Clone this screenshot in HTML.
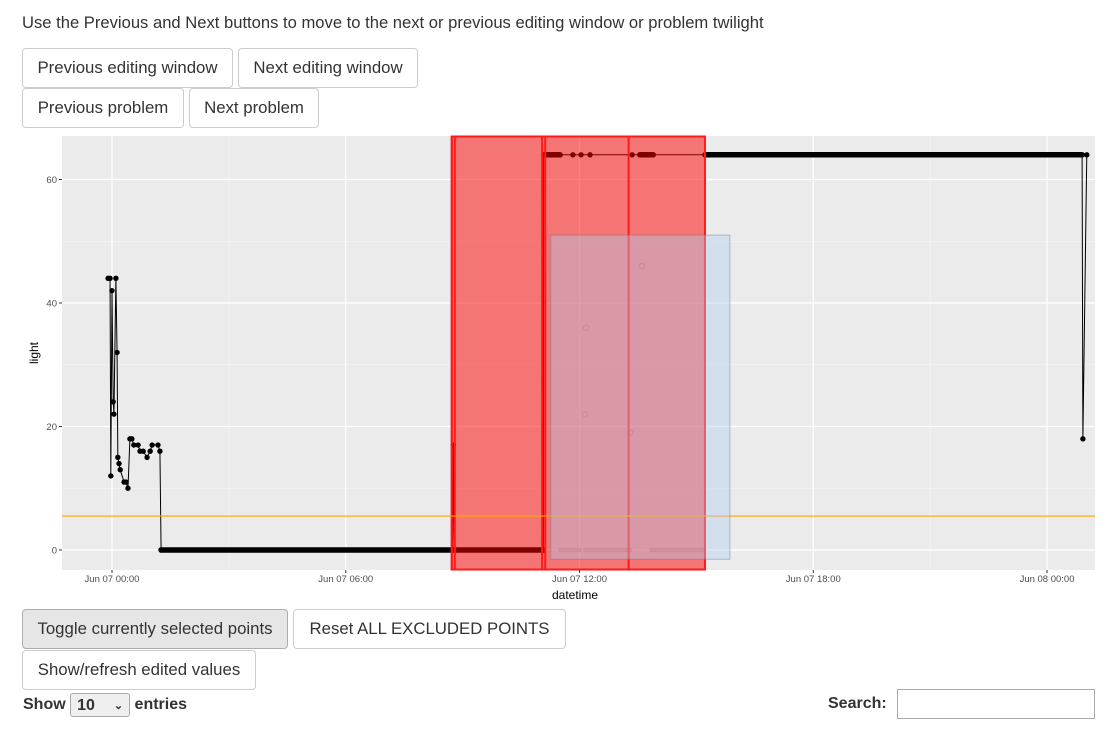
<!DOCTYPE html>
<html><head><meta charset="utf-8">
<style>
body{margin:0;width:1108px;height:733px;background:#fff;font-family:"Liberation Sans",Arial,sans-serif;color:#333;position:relative;overflow:hidden}
.abs{position:absolute}
.btn{position:absolute;box-sizing:border-box;border:1px solid #ccc;border-radius:4px;background:#fff;font-size:16.8px;color:#333;display:flex;align-items:center;justify-content:center;height:40px;white-space:nowrap}
</style></head><body>
<div class="abs" style="left:22px;top:13px;font-size:16.6px;white-space:nowrap">Use the Previous and Next buttons to move to the next or previous editing window or problem twilight</div>
<div class="btn" style="left:22px;top:48px;width:211px">Previous editing window</div>
<div class="btn" style="left:238px;top:48px;width:180px">Next editing window</div>
<div class="btn" style="left:22px;top:88px;width:162px">Previous problem</div>
<div class="btn" style="left:189px;top:88px;width:130px">Next problem</div>

<svg class="abs" style="left:0;top:0" width="1108" height="733" id="chart" font-family="Liberation Sans, Arial, sans-serif"></svg>

<div class="btn" style="left:22px;top:609px;width:266px;background:#e6e6e6;border-color:#adadad">Toggle currently selected points</div>
<div class="btn" style="left:293px;top:609px;width:273px">Reset ALL EXCLUDED POINTS</div>
<div class="btn" style="left:22px;top:650px;width:234px">Show/refresh edited values</div>
<div class="abs" style="left:23px;top:693px;font-size:16px;font-weight:bold;color:#333">Show <span style="display:inline-block;border:1px solid #aaa;border-radius:3px;width:60px;height:24px;line-height:24px;box-sizing:border-box;padding-left:6px;vertical-align:middle;font-weight:bold;background:#efefef">10 <span style="float:right;margin-right:6px;font-size:11px">&#8964;</span></span> entries</div>
<div class="abs" style="left:828px;top:695px;font-size:16px;font-weight:bold">Search:</div>
<div class="abs" style="left:897px;top:689px;width:198px;height:30px;box-sizing:border-box;border:1px solid #aaa"></div>

<script>
const yTicks=[0,20,40,60];
const xTickHours=[0,6,12,18,24];
const xTickLabels=["Jun 07 00:00","Jun 07 06:00","Jun 07 12:00","Jun 07 18:00","Jun 08 00:00"];
const ptHours=[-0.10,-0.05,-0.03,0,0.03,0.05,0.10,0.13,0.15,0.18,0.21,0.31,0.36,0.41,0.46,0.51,0.56,0.67,0.72,0.80,0.90,0.98,1.03,1.18,1.23,1.26,8.74,8.76,8.78,11.07,11.08,11.5,11.83,12.04,12.27,13.35,13.55,13.89,15.22,24.9,24.92,25.02];
const ptValues=[44,44,12,42,24,22,44,32,15,14,13,11,11,10,18,18,17,17,16,16,15,16,17,17,16,0,0,17,0,0,64,64,64,64,64,64,64,64,64,64,18,64];
const runStart=[1.26,8.78,11.08,13.55,15.22];
const runEnd=[8.74,11.07,11.5,13.89,24.9];
const runValue=[0,0,64,64,64];
const exclRunStart=[11.5,12.15,13.85];
const exclRunEnd=[12.0,13.3,15.2];
const exclHours=[12.17,12.14,13.6,13.3];
const exclValues=[36,22,46,19];
const redStart=[8.72,8.8,11.04,11.12,13.26];
const redEnd=[15.22,15.22,15.22,15.22,15.22];
const brushH=[11.26,15.86], brushV=[-1.5,51];
const threshold=5.5;

const L=62,R=1095,T=136,B=570;
const X=h=>112+h*38.96;
const Y=v=>550-v*6.175;
const svg=document.getElementById('chart');
const NS='http://www.w3.org/2000/svg';
function el(tag,a,parent){const e=document.createElementNS(NS,tag);for(const k in a)e.setAttribute(k,a[k]);(parent||svg).appendChild(e);return e;}

let e=el('rect',{x:L,y:T,width:R-L,height:B-T,fill:'#ebebeb'});


for(let v=10;v<70;v+=20){e=el('line',{x1:L,x2:R,y1:Y(v),y2:Y(v),stroke:'#f5f5f5','stroke-width':0.6});

}
for(let h=-3;h<=27;h+=6){if(X(h)<L||X(h)>R)continue;e=el('line',{x1:X(h),x2:X(h),y1:T,y2:B,stroke:'#f5f5f5','stroke-width':0.6});

}
yTicks.forEach(v=>{e=el('line',{x1:L,x2:R,y1:Y(v),y2:Y(v),stroke:'#fff','stroke-width':1.2});


e=el('line',{x1:L-3,x2:L,y1:Y(v),y2:Y(v),stroke:'#333'});


e=el('text',{x:L-5,y:Y(v)+3.5,'text-anchor':'end','font-size':9.5,fill:'#4d4d4d'});e.textContent=v;

});
xTickHours.forEach((h,i)=>{e=el('line',{x1:X(h),x2:X(h),y1:T,y2:B,stroke:'#fff','stroke-width':1.2});


e=el('line',{x1:X(h),x2:X(h),y1:B,y2:B+3,stroke:'#333'});


e=el('text',{x:X(h),y:B+12,'text-anchor':'middle','font-size':9.5,fill:'#4d4d4d'});e.textContent=xTickLabels[i];

});
e=el('text',{x:575,y:599,'text-anchor':'middle','font-size':12,fill:'#000'});e.textContent='datetime';


e=el('text',{x:38,y:353,'text-anchor':'middle','font-size':12,fill:'#000',transform:'rotate(-90 38 353)'});e.textContent='light';



let d=ptHours.map((h,i)=>(i?'L':'M')+X(h)+','+Y(ptValues[i])).join('');
e=el('path',{d:d,fill:'none',stroke:'#000','stroke-width':1});


runStart.forEach((s,i)=>{e=el('line',{x1:X(s),x2:X(runEnd[i]),y1:Y(runValue[i]),y2:Y(runValue[i]),stroke:'#000','stroke-width':5.5,'stroke-linecap':'round'});

});
ptHours.forEach((h,i)=>{e=el('circle',{cx:X(h),cy:Y(ptValues[i]),r:2.7,fill:'#000'});

});
exclRunStart.forEach((s,i)=>{e=el('line',{x1:X(s),x2:X(exclRunEnd[i]),y1:Y(0),y2:Y(0),stroke:'#999','stroke-width':4.5,'stroke-linecap':'round','stroke-opacity':0.5});

});
exclHours.forEach((h,i)=>{e=el('circle',{cx:X(h),cy:Y(exclValues[i]),r:2.7,fill:'none',stroke:'#999','stroke-opacity':0.6});

});

e=el('rect',{x:X(redStart[0]),y:T,width:X(redEnd[0])-X(redStart[0]),height:B-T,fill:'rgba(255,0,0,0.5)'});


redStart.forEach((s,i)=>{e=el('line',{x1:X(s),x2:X(s),y1:T,y2:B,stroke:'#ff1a1a','stroke-width':2});

});
e=el('rect',{x:X(redStart[0]),y:T+0.5,width:X(redEnd[0])-X(redStart[0]),height:B-T-1,fill:'none',stroke:'#ff1a1a','stroke-width':2});



e=el('line',{x1:L,x2:R,y1:Y(threshold),y2:Y(threshold),stroke:'#ffa500','stroke-width':1.2});



e=el('rect',{x:X(brushH[0]),y:Y(brushV[1]),width:X(brushH[1])-X(brushH[0]),height:Y(brushV[0])-Y(brushV[1]),fill:'rgba(175,205,240,0.4)',stroke:'rgba(90,110,140,0.4)','stroke-width':1});


</script>
</body></html>
